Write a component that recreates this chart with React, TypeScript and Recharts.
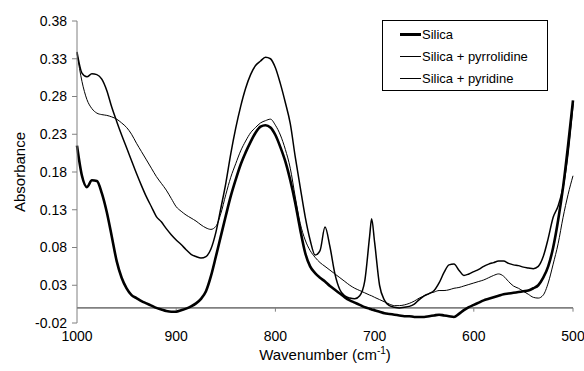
import {
  LineChart,
  Line,
  XAxis,
  YAxis,
  Legend,
  ReferenceLine,
} from "recharts";

// wavenumber (cm-1), high to low
const wavenumbers = [
  1000, 995, 990, 985, 980, 975, 970, 965, 960, 955,
  950, 945, 940, 935, 930, 925, 920, 915, 910, 905,
  900, 895, 890, 885, 880, 875, 870, 865, 860, 855,
  850, 845, 840, 835, 830, 825, 820, 815, 810, 805,
  800, 795, 790, 785, 780, 775, 770, 765, 760, 755,
  750, 745, 740, 735, 730, 725, 720, 715, 710, 705,
  703, 700, 695, 690, 685, 680, 675, 670, 665, 660,
  655, 650, 645, 640, 635, 630, 625, 620, 615, 610,
  605, 600, 595, 590, 585, 580, 575, 570, 565, 560,
  555, 550, 545, 540, 535, 530, 525, 520, 515, 510,
  505, 500,
];

const silica = [
  0.215, 0.175, 0.16, 0.169, 0.168, 0.152, 0.127, 0.095, 0.062, 0.04,
  0.026, 0.017, 0.013, 0.009, 0.006, 0.003, 0.0, -0.002, -0.004, -0.005,
  -0.005, -0.003, -0.001, 0.002, 0.006, 0.012, 0.022, 0.042, 0.068, 0.095,
  0.122, 0.148, 0.17, 0.19, 0.206, 0.22, 0.232, 0.24, 0.242, 0.239,
  0.229, 0.213, 0.194, 0.169, 0.139, 0.104, 0.073, 0.055, 0.046, 0.04,
  0.035, 0.029, 0.024, 0.019, 0.014, 0.01, 0.007, 0.004, 0.001, -0.001,
  -0.002, -0.003, -0.005, -0.007, -0.008, -0.009, -0.01, -0.011, -0.011, -0.012,
  -0.012, -0.012, -0.011, -0.01, -0.009, -0.01, -0.011, -0.012, -0.008, -0.003,
  0.001, 0.004, 0.007, 0.01, 0.012, 0.014, 0.016, 0.018, 0.019, 0.02,
  0.021, 0.022, 0.023, 0.026, 0.03, 0.04, 0.055, 0.08, 0.116, 0.16,
  0.215, 0.275,
];

const pyrrolidine = [
  0.337, 0.3, 0.276, 0.264, 0.258, 0.256, 0.255, 0.253, 0.25, 0.245,
  0.239, 0.23, 0.218, 0.207, 0.196, 0.185, 0.174, 0.165, 0.156, 0.145,
  0.134, 0.128, 0.123, 0.119, 0.115, 0.11, 0.106, 0.104, 0.108, 0.125,
  0.15, 0.173, 0.191, 0.208, 0.221, 0.232, 0.239, 0.245, 0.248, 0.25,
  0.242, 0.229, 0.21, 0.185, 0.147, 0.112, 0.09, 0.076, 0.067, 0.06,
  0.055, 0.05, 0.045, 0.04, 0.035, 0.03, 0.026, 0.023, 0.02, 0.017,
  0.016, 0.014, 0.011, 0.008, 0.005, 0.003, 0.003, 0.004, 0.006, 0.009,
  0.013, 0.016, 0.019, 0.021, 0.023, 0.023, 0.024, 0.026, 0.027, 0.029,
  0.031, 0.033, 0.035, 0.037, 0.04, 0.043, 0.045, 0.042, 0.035, 0.029,
  0.026, 0.022, 0.018, 0.014, 0.013, 0.017, 0.033, 0.058, 0.085, 0.12,
  0.15, 0.175,
];

const pyridine = [
  0.339, 0.311, 0.306, 0.31, 0.309, 0.303, 0.288, 0.266, 0.247, 0.229,
  0.212, 0.195, 0.178, 0.162, 0.147, 0.134, 0.121, 0.114, 0.105, 0.097,
  0.09, 0.084, 0.077, 0.071, 0.068, 0.066, 0.068, 0.078, 0.1, 0.132,
  0.165, 0.204, 0.238, 0.267, 0.291, 0.309, 0.321, 0.327, 0.332, 0.33,
  0.318, 0.297, 0.272, 0.244, 0.2, 0.16, 0.121, 0.09, 0.07, 0.076,
  0.107, 0.081, 0.045, 0.024, 0.016, 0.013, 0.012, 0.016, 0.035, 0.095,
  0.118, 0.087, 0.03, 0.01, 0.003, 0.001, 0.0, 0.001, 0.002, 0.005,
  0.011, 0.016, 0.019, 0.023, 0.033, 0.047, 0.057, 0.058, 0.05, 0.043,
  0.045, 0.048, 0.051, 0.055, 0.058, 0.06, 0.062, 0.062, 0.059, 0.057,
  0.056, 0.054, 0.053, 0.052, 0.055, 0.068, 0.092, 0.12, 0.135, 0.16,
  0.205, 0.27,
];

const xTicks = [1000, 900, 800, 700, 600, 500];
const yTicks = [-0.02, 0.03, 0.08, 0.13, 0.18, 0.23, 0.28, 0.33, 0.38];

// legend order as in the original figure
const series = [
  { key: "silica", name: "Silica", width: 2.6, sample: 3 },
  { key: "pyrrolidine", name: "Silica + pyrrolidine", width: 1, sample: 1 },
  { key: "pyridine", name: "Silica + pyridine", width: 1.5, sample: 1 },
];

const FONT = '"Liberation Sans", Arial, sans-serif';
const AXIS_GRAY = "#808080";

const data = wavenumbers.map((w, i) => ({
  w,
  silica: silica[i],
  pyrrolidine: pyrrolidine[i],
  pyridine: pyridine[i],
}));

function LegendBox() {
  return (
    <div
      style={{
        border: "1px solid #000",
        background: "#fff",
        width: 164,
        height: 67,
        boxSizing: "content-box",
        fontFamily: FONT,
        fontSize: 13,
        color: "#000",
        paddingTop: 2,
      }}
    >
      {series.map((s) => (
        <div
          key={s.key}
          style={{ display: "flex", alignItems: "center", height: 22 }}
        >
          <div
            style={{
              marginLeft: 17,
              width: 21,
              height: s.sample,
              background: "#000",
            }}
          />
          <span style={{ marginLeft: 1 }}>{s.name}</span>
        </div>
      ))}
    </div>
  );
}

function YTitle({ viewBox }: { viewBox?: { x: number; y: number; width: number; height: number } }) {
  if (!viewBox) return null;
  const cx = viewBox.x + 19;
  const cy = viewBox.y + viewBox.height / 2;
  return (
    <text
      x={cx}
      y={cy}
      transform={`rotate(-90, ${cx}, ${cy})`}
      textAnchor="middle"
      dominantBaseline="central"
      fontFamily={FONT}
      fontSize={15}
      fill="#000"
    >
      Absorbance
    </text>
  );
}

function XTitle({ viewBox }: { viewBox?: { x: number; y: number; width: number; height: number } }) {
  if (!viewBox) return null;
  const cx = viewBox.x + viewBox.width / 2;
  return (
    <text
      x={cx}
      y={viewBox.y + 37}
      textAnchor="middle"
      fontFamily={FONT}
      fontSize={15}
      fill="#000"
    >
      Wavenumber (cm
      <tspan fontSize={10} dy={-6}>
        -1
      </tspan>
      <tspan dy={6}>)</tspan>
    </text>
  );
}

export default function App() {
  return (
    <div style={{ position: "absolute", left: 0, top: 0, background: "#fff" }}>
      <LineChart
        width={584}
        height={371}
        data={data}
        margin={{ top: 21, right: 11, bottom: 0, left: 0 }}
      >
        <XAxis
          dataKey="w"
          type="number"
          domain={[500, 1000]}
          reversed
          ticks={xTicks}
          axisLine={false}
          tickLine={false}
          height={48}
          tick={{ fontSize: 14, fill: "#000", fontFamily: FONT }}
          label={<XTitle />}
        />
        <YAxis
          type="number"
          domain={[-0.02, 0.38]}
          ticks={yTicks}
          width={77}
          tickFormatter={(v: number) => v.toFixed(2)}
          axisLine={{ stroke: AXIS_GRAY }}
          tickLine={{ stroke: AXIS_GRAY }}
          tickSize={5}
          tickMargin={5}
          tick={{ fontSize: 14, fill: "#000", fontFamily: FONT }}
          label={<YTitle />}
        />
        <ReferenceLine y={0} stroke={AXIS_GRAY} strokeWidth={1.6} />
        {xTicks.slice(1).map((t) => (
          <ReferenceLine
            key={t}
            ifOverflow="visible"
            stroke={AXIS_GRAY}
            segment={[
              { x: t, y: 0 },
              { x: t, y: -0.005 },
            ]}
          />
        ))}
        {series.map((s) => (
          <Line
            key={s.key}
            dataKey={s.key}
            name={s.name}
            type="monotone"
            stroke="#000"
            strokeWidth={s.width}
            dot={false}
            isAnimationActive={false}
          />
        ))}
        <Legend
          layout="vertical"
          align="center"
          verticalAlign="middle"
          content={<LegendBox />}
          wrapperStyle={{ left: 382, top: 20, width: 166 }}
        />
      </LineChart>
    </div>
  );
}
